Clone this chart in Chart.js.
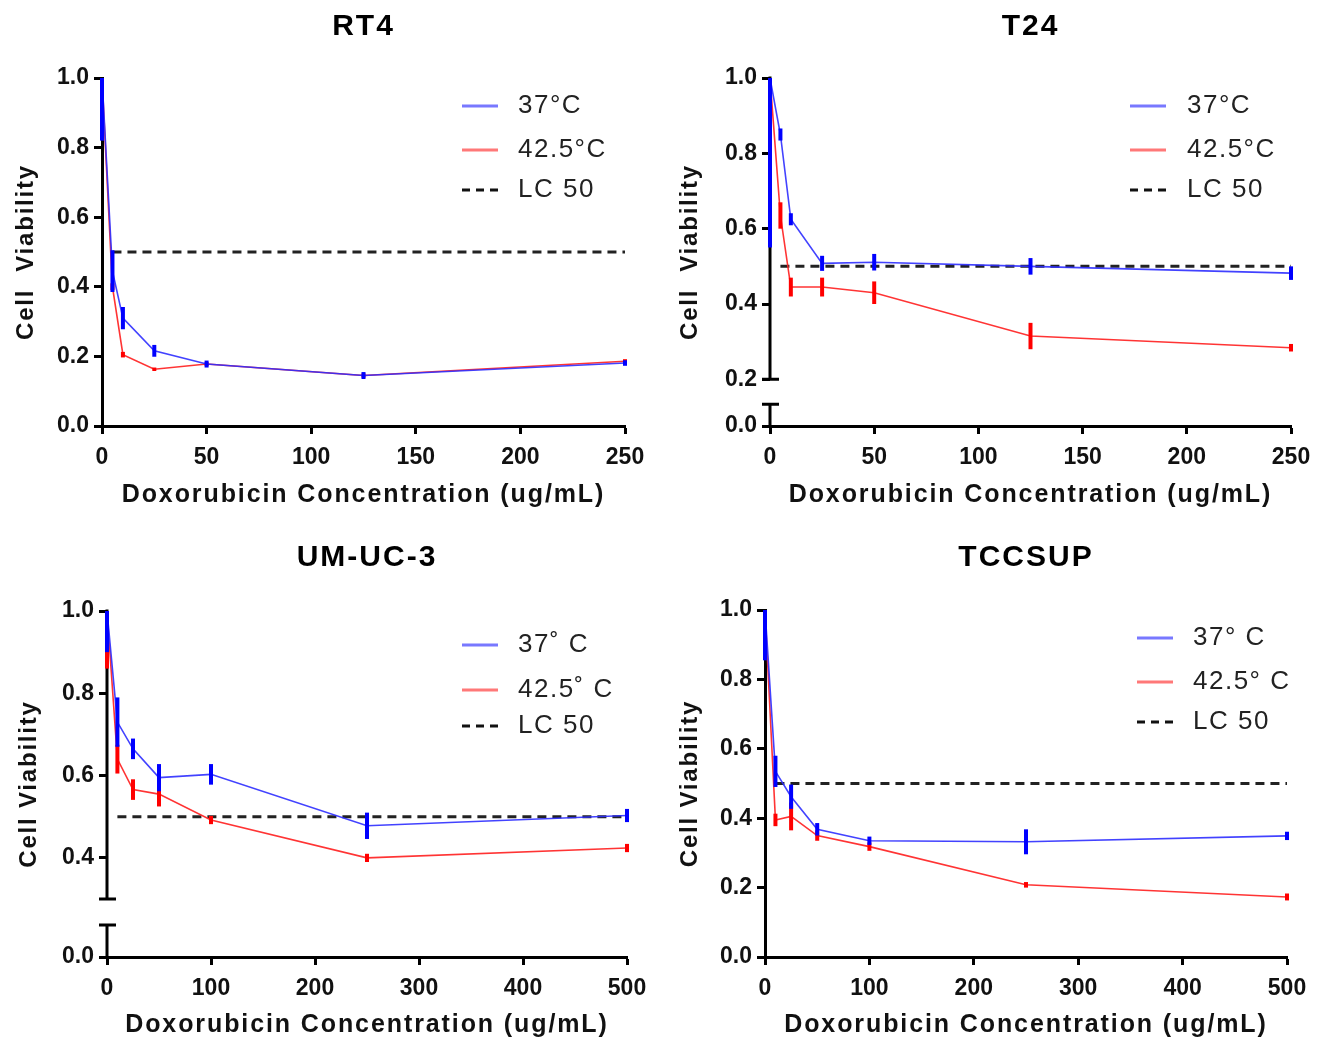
<!DOCTYPE html>
<html><head><meta charset="utf-8">
<script src="https://cdn.jsdelivr.net/npm/chart.js@4.4.0/dist/chart.umd.min.js"></script>
<style>
html,body{margin:0;padding:0;background:#fff;}
#wrap{position:relative;width:1329px;height:1040px;background:#fff;}
canvas{position:absolute;}
</style></head><body>
<div id="wrap">
<canvas id="c1" width="664" height="520" style="left:0;top:0"></canvas>
<canvas id="c2" width="665" height="520" style="left:664px;top:0"></canvas>
<canvas id="c3" width="664" height="520" style="left:0;top:520px"></canvas>
<canvas id="c4" width="665" height="520" style="left:664px;top:520px"></canvas>
</div>
<script>
// ---------- DATA ----------
const panelTitles = ['RT4', 'T24', 'UM-UC-3', 'TCCSUP'];
const xAxisTitle = 'Doxorubicin Concentration (ug/mL)';
const yAxisTitles = ['Cell  Viability', 'Cell  Viability', 'Cell Viability', 'Cell Viability'];

const legendTop = ['37°C', '42.5°C', 'LC 50'];
const legendUM = ['37˚ C', '42.5˚ C', 'LC 50'];
const legendTCC = ['37° C', '42.5° C', 'LC 50'];

const xTicks250 = [0, 50, 100, 150, 200, 250];
const xTicks500 = [0, 100, 200, 300, 400, 500];
const yTicksFull = [0, 0.2, 0.4, 0.6, 0.8, 1.0];
const yTicksUM = [0, 0.4, 0.6, 0.8, 1.0];

const rt4Dose = [0, 5, 10, 25, 50, 125, 250];
const rt4Mean37 = [1.0, 0.445, 0.31, 0.216, 0.178, 0.145, 0.181];
const rt4Err37 = [0.18, 0.06, 0.032, 0.017, 0.01, 0.01, 0.008];
const rt4Mean42 = [1.0, 0.40, 0.205, 0.163, 0.178, 0.145, 0.186];
const rt4Err42 = [0.05, 0.01, 0.008, 0.005, 0.006, 0.006, 0.006];

const t24Dose = [0, 5, 10, 25, 50, 125, 250];
const t24Mean37 = [1.0, 0.85, 0.625, 0.508, 0.511, 0.50, 0.482];
const t24Err37 = [0.45, 0.016, 0.016, 0.02, 0.022, 0.022, 0.018];
const t24Mean42 = [1.0, 0.635, 0.445, 0.445, 0.43, 0.315, 0.284];
const t24Err42 = [0.1, 0.035, 0.025, 0.025, 0.03, 0.035, 0.01];

const umDose = [0, 10, 25, 50, 100, 250, 500];
const umMean37 = [1.0, 0.73, 0.665, 0.595, 0.603, 0.478, 0.503];
const umErr37 = [0.1, 0.06, 0.025, 0.033, 0.025, 0.032, 0.016];
const umMean42 = [1.0, 0.64, 0.566, 0.555, 0.492, 0.40, 0.424];
const umErr42 = [0.14, 0.035, 0.025, 0.03, 0.01, 0.01, 0.01];

const tccDose = [0, 10, 25, 50, 100, 250, 500];
const tccMean37 = [1.0, 0.535, 0.462, 0.368, 0.335, 0.332, 0.349];
const tccErr37 = [0.145, 0.045, 0.035, 0.018, 0.012, 0.036, 0.012];
const tccMean42 = [1.0, 0.395, 0.405, 0.35, 0.318, 0.208, 0.173];
const tccErr42 = [0.08, 0.018, 0.04, 0.015, 0.012, 0.008, 0.01];

const lcX250 = [5, 250];
const lcX500 = [10, 500];
const lcY = [0.5, 0.5];

// ---------- SCALE WITH OPTIONAL AXIS BREAK ----------
class BrokenLinearScale extends Chart.LinearScale {
  _dec(value) {
    const b = this.options.brk;
    const min = this.min, max = this.max;
    if (!b) return (value - min) / (max - min);
    if (value >= b.value) return b.decimal + (value - b.value) / (max - b.value) * (1 - b.decimal);
    return (value - min) / (b.value - min) * b.decimal;
  }
  getPixelForValue(value) {
    if (value === null || value === undefined) return NaN;
    return this.getPixelForDecimal(this._dec(value));
  }
  getValueForPixel(pixel) {
    const d = this.getDecimalForPixel(pixel);
    const b = this.options.brk;
    if (!b) return this.min + d * (this.max - this.min);
    if (d >= b.decimal) return b.value + (d - b.decimal) / (1 - b.decimal) * (this.max - b.value);
    return this.min + d / b.decimal * (b.value - this.min);
  }
  drawTitle() {
    const ctx = this.ctx;
    const prev = ctx.letterSpacing;
    ctx.letterSpacing = (this.options.titleSpacing || 0) + 'px';
    super.drawTitle();
    ctx.letterSpacing = prev;
  }
  drawLabels(area) {
    const ctx = this.ctx;
    const prev = ctx.letterSpacing;
    ctx.letterSpacing = '0px';
    super.drawLabels(area);
    ctx.letterSpacing = prev;
  }
}
BrokenLinearScale.id = 'brokenLinear';
BrokenLinearScale.defaults = Chart.LinearScale.defaults;
Chart.register(BrokenLinearScale);

// ---------- PLUGINS ----------
const spacingPlugin = {
  id: 'titleSpacing',
  beforeDraw(chart, args, opts) { chart.ctx.letterSpacing = opts.px + 'px'; },
  afterDraw(chart) { chart.ctx.letterSpacing = '0px'; }
};

const errorBarPlugin = {
  id: 'errorBars',
  afterDatasetDraw(chart, args) {
    const ds = chart.data.datasets[args.index];
    if (!ds.errors) return;
    const xs = chart.scales.x, ys = chart.scales.y;
    const {ctx, chartArea} = chart;
    ctx.save();
    ctx.beginPath();
    ctx.rect(chartArea.left - 10, chartArea.top, chartArea.right - chartArea.left + 20, chartArea.bottom - chartArea.top);
    ctx.clip();
    ctx.strokeStyle = ds.errorColor;
    ctx.lineWidth = ds.errorWidth;
    ctx.lineCap = 'butt';
    ds.data.forEach((p, j) => {
      const e = ds.errors[j];
      if (!e) return;
      const x = xs.getPixelForValue(p.x);
      ctx.beginPath();
      ctx.moveTo(x, ys.getPixelForValue(p.y - e));
      ctx.lineTo(x, ys.getPixelForValue(p.y + e));
      ctx.stroke();
    });
    ctx.restore();
  }
};

const axisBreakPlugin = {
  id: 'axisBreak',
  beforeDatasetsDraw(chart) {
    const ys = chart.scales.y;
    const b = ys.options.brk;
    if (!b) return;
    const {ctx, chartArea} = chart;
    const x = chartArea.left;
    ctx.save();
    ctx.strokeStyle = '#000';
    ctx.lineWidth = 3;
    ctx.lineCap = 'butt';
    const yTop = ys.getPixelForValue(ys.max) - 1.5;
    const yBrk = ys.getPixelForValue(b.value);
    const yCap = ys.getPixelForValue(b.capLow);
    const yZero = ys.getPixelForValue(ys.min) + 1.5;
    ctx.beginPath();
    ctx.moveTo(x, yTop); ctx.lineTo(x, yBrk);
    ctx.moveTo(x - 8, yBrk); ctx.lineTo(x + 9, yBrk);
    ctx.moveTo(x, yCap); ctx.lineTo(x, yZero);
    ctx.moveTo(x - 8, yCap); ctx.lineTo(x + 9, yCap);
    ctx.stroke();
    ctx.restore();
  }
};

const insideLegendPlugin = {
  id: 'insideLegend',
  afterDraw(chart, args, opts) {
    const {ctx, chartArea} = chart;
    ctx.save();
    ctx.font = opts.font;
    ctx.letterSpacing = opts.spacing + 'px';
    ctx.textBaseline = 'middle';
    ctx.textAlign = 'left';
    chart.data.datasets.forEach((ds, i) => {
      const y = chartArea.top + opts.rows[i];
      ctx.beginPath();
      ctx.strokeStyle = ds.legendColor;
      ctx.lineWidth = 3;
      ctx.setLineDash(ds.legendDash || []);
      ctx.moveTo(chartArea.left + opts.sampleX[0], y);
      ctx.lineTo(chartArea.left + opts.sampleX[1], y);
      ctx.stroke();
      ctx.setLineDash([]);
      ctx.fillStyle = opts.color;
      ctx.fillText(ds.label, chartArea.left + opts.textX, y);
    });
    ctx.restore();
  }
};

// ---------- BUILD ----------
const FONT = "'Liberation Sans', Arial, sans-serif";
function pts(xs, ys) { return xs.map((x, i) => ({x: x, y: ys[i]})); }

function makeChart(id, cfg) {
  const datasets = [
    {label: cfg.labels[0], data: pts(cfg.dose, cfg.m37), errors: cfg.e37,
     borderColor: 'rgba(45,45,255,0.9)', borderWidth: 1.6, errorColor: '#0000ff', errorWidth: 4,
     legendColor: '#7878ff', pointRadius: 0, tension: 0},
    {label: cfg.labels[1], data: pts(cfg.dose, cfg.m42), errors: cfg.e42,
     borderColor: 'rgba(255,35,35,0.92)', borderWidth: 1.6, errorColor: '#ff0000', errorWidth: 4,
     legendColor: '#ff7878', pointRadius: 0, tension: 0},
    {label: cfg.labels[2], data: pts(cfg.lcX, lcY),
     borderColor: '#222', borderWidth: 3, borderDash: [9, 6], legendColor: '#111', legendDash: [8, 6],
     pointRadius: 0}
  ];
  return new Chart(document.getElementById(id), {
    type: 'line',
    data: {datasets},
    plugins: [spacingPlugin, errorBarPlugin, axisBreakPlugin, insideLegendPlugin],
    options: {
      responsive: false,
      animation: false,
      devicePixelRatio: 1,
      layout: {padding: {left: 0, right: cfg.padRight, top: 0, bottom: 0}},
      plugins: {
        legend: {display: false},
        tooltip: {enabled: false},
        titleSpacing: {px: 2},
        title: {display: true, text: cfg.title, fullSize: false, color: '#000',
                font: {family: FONT, size: 30, weight: 'bold'},
                padding: {top: cfg.titlePadTop, bottom: cfg.titlePadBottom}},
        insideLegend: {font: "26px " + FONT, spacing: 1.5, color: '#222', rows: cfg.legRows, sampleX: cfg.legSample, textX: cfg.legText}
      },
      scales: {
        x: {
          type: 'brokenLinear', min: 0, max: cfg.xMax, titleSpacing: 1.9,
          afterBuildTicks: s => { s.ticks = cfg.xTicks.map(v => ({value: v})); },
          afterFit: s => { s.height = cfg.xHeight; },
          ticks: {font: {family: FONT, size: 23, weight: 'bold'}, color: '#111', padding: 10, maxRotation: 0},
          grid: {drawOnChartArea: false, drawTicks: true, tickLength: 8, tickWidth: 3, tickColor: '#000'},
          border: {display: true, width: 3, color: '#000'},
          title: {display: true, text: xAxisTitle, color: '#111',
                  font: {family: FONT, size: 25, weight: 'bold'}, padding: {top: 0, bottom: cfg.xTitlePad}}
        },
        y: {
          type: 'brokenLinear', min: 0, max: 1, titleSpacing: 1.8,
          brk: cfg.brk,
          afterBuildTicks: s => { s.ticks = cfg.yTicks.map(v => ({value: v})); },
          afterFit: s => { s.width = cfg.yWidth; },
          ticks: {font: {family: FONT, size: 23, weight: 'bold'}, color: '#111', padding: 5,
                  callback: v => Number(v).toFixed(1)},
          grid: {drawOnChartArea: false, drawTicks: true, tickLength: 8, tickWidth: 3, tickColor: '#000'},
          border: {display: !cfg.brk, width: 3, color: '#000'},
          title: {display: true, text: cfg.yTitle, color: '#111',
                  font: {family: FONT, size: 24, weight: 'bold'}, padding: {top: cfg.yTitlePad, bottom: 0}}
        }
      }
    }
  });
}

makeChart('c1', {
  title: panelTitles[0], yTitle: yAxisTitles[0], labels: legendTop,
  dose: rt4Dose, m37: rt4Mean37, e37: rt4Err37, m42: rt4Mean42, e42: rt4Err42, lcX: lcX250,
  xMax: 250, xTicks: xTicks250, yTicks: yTicksFull, brk: null,
  padRight: 39, titlePadTop: 9, titlePadBottom: 33, yWidth: 102, xHeight: 94, xTitlePad: 10, yTitlePad: 12,
  legRows: [28, 72, 112], legSample: [360, 396], legText: 416
});
makeChart('c2', {
  title: panelTitles[1], yTitle: yAxisTitles[1], labels: legendTop,
  dose: t24Dose, m37: t24Mean37, e37: t24Err37, m42: t24Mean42, e42: t24Err42, lcX: lcX250,
  xMax: 250, xTicks: xTicks250, yTicks: yTicksFull, brk: {value: 0.2, decimal: 0.134, capLow: 0.093},
  padRight: 38, titlePadTop: 9, titlePadBottom: 33, yWidth: 106, xHeight: 94, xTitlePad: 10, yTitlePad: 12,
  legRows: [28, 72, 112], legSample: [360, 396], legText: 417
});
makeChart('c3', {
  title: panelTitles[2], yTitle: yAxisTitles[2], labels: legendUM,
  dose: umDose, m37: umMean37, e37: umErr37, m42: umMean42, e42: umErr42, lcX: lcX500,
  xMax: 500, xTicks: xTicks500, yTicks: yTicksUM, brk: {value: 0.3, decimal: 0.1675, capLow: 0.1655},
  padRight: 37, titlePadTop: 20, titlePadBottom: 35, yWidth: 107, xHeight: 83, xTitlePad: 0, yTitlePad: 15,
  legRows: [34, 79, 115], legSample: [355, 391], legText: 411
});
makeChart('c4', {
  title: panelTitles[3], yTitle: yAxisTitles[3], labels: legendTCC,
  dose: tccDose, m37: tccMean37, e37: tccErr37, m42: tccMean42, e42: tccErr42, lcX: lcX500,
  xMax: 500, xTicks: xTicks500, yTicks: yTicksFull, brk: null,
  padRight: 42, titlePadTop: 20, titlePadBottom: 34, yWidth: 101, xHeight: 83, xTitlePad: 0, yTitlePad: 12,
  legRows: [28, 72, 112], legSample: [372, 408], legText: 428
});
</script>
</body></html>
